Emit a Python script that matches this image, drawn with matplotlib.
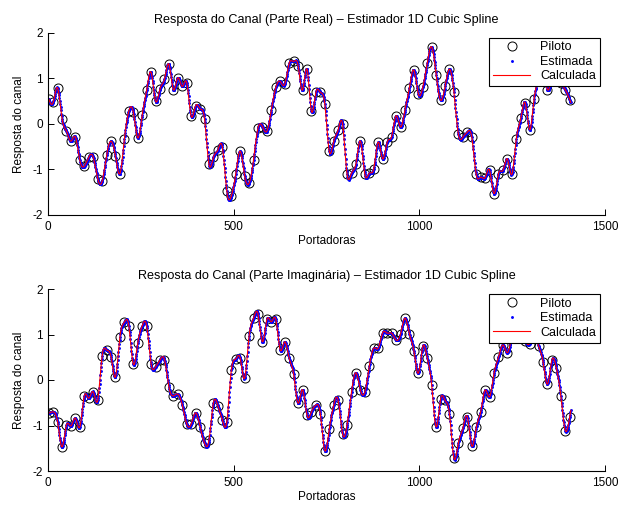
import numpy as np
import matplotlib
matplotlib.use("Agg")
import matplotlib.pyplot as plt

plt.rcParams['font.family'] = ['Liberation Sans', 'DejaVu Sans']
plt.rcParams['axes.unicode_minus'] = False

# ---------------- data ----------------
pilot_spacing = 12
n_carriers = 1408

pilot_real = [
    0.55, 0.47, 0.79, 0.11, -0.16, -0.38, -0.29, -0.80, -0.93, -0.73,
    -0.73, -1.20, -1.26, -0.69, -0.38, -0.71, -1.09, -0.33, 0.28, 0.26,
    -0.31, 0.20, 0.74, 1.13, 0.50, 0.77, 0.98, 1.31, 0.75, 1.01,
    0.82, 0.90, 0.17, 0.40, 0.33, 0.11, -0.89, -0.73, -0.57, -0.51,
    -1.48, -1.59, -1.10, -0.60, -1.14, -1.30, -0.79, -0.09, -0.06, -0.16,
    0.31, 0.80, 0.93, 0.87, 1.33, 1.37, 1.28, 0.74, 1.20, 0.28,
    0.69, 0.69, 0.44, -0.60, -0.38, -0.13, -0.01, -1.11, -1.08, -0.87,
    -0.38, -1.11, -1.08, -0.98, -0.40, -0.77, -0.40, -0.28, 0.18, -0.07,
    0.31, 0.79, 1.18, 0.66, 0.80, 1.33, 1.69, 1.08, 0.52, 0.82,
    1.20, 0.69, -0.23, -0.29, -0.18, -0.29, -1.11, -1.17, -1.18, -1.02,
    -1.53, -1.09, -1.02, -0.77, -1.11, -0.33, 0.12, 0.46, -0.13, 0.55,
    1.00, 1.20, 0.75, 1.00, 1.10, 0.90, 0.75, 0.53,
]

pilot_imag = [
    -0.73, -0.70, -0.92, -1.47, -0.99, -1.01, -0.84, -1.03, -0.35, -0.40,
    -0.26, -0.45, 0.53, 0.66, 0.51, 0.07, 0.95, 1.27, 1.19, 0.35,
    0.81, 1.19, 1.19, 0.35, 0.29, 0.44, 0.45, -0.15, -0.35, -0.31,
    -0.55, -0.97, -0.97, -0.72, -1.03, -1.39, -1.32, -0.50, -0.57, -0.88,
    -0.92, 0.21, 0.46, 0.48, 0.04, 0.97, 1.36, 1.45, 0.84, 1.33,
    1.28, 1.33, 0.66, 0.84, 0.48, 0.13, -0.51, -0.21, -0.77, -0.70,
    -0.55, -0.75, -1.55, -1.08, -0.55, -0.45, -1.19, -0.99, -0.26, 0.16,
    -0.22, -0.26, 0.31, 0.70, 0.70, 1.04, 1.03, 1.03, 0.88, 1.01,
    1.36, 1.01, 0.64, 0.15, 0.74, 0.48, -0.11, -1.03, -0.42, -0.45,
    -0.75, -1.72, -1.38, -1.06, -0.81, -1.45, -1.04, -0.70, -0.22, -0.37,
    0.15, 0.50, 0.77, 0.60, 0.95, 1.20, 1.05, 0.85, 0.80, 1.00,
    0.75, 0.40, -0.09, 0.44, 0.26, -0.35, -1.11, -0.81,
]

titles = [
    "Resposta do Canal (Parte Real) \u2013 Estimador 1D Cubic Spline",
    "Resposta do Canal (Parte Imagin\u00e1ria) \u2013 Estimador 1D Cubic Spline",
]
legend_labels = ["Piloto", "Estimada", "Calculada"]
x_ticks = [0, 500, 1000, 1500]
y_ticks = [-2, -1, 0, 1, 2]


def natural_cubic_spline(xk, yk, xq):
    xk = np.asarray(xk, float)
    yk = np.asarray(yk, float)
    n = len(xk)
    h = np.diff(xk)
    A = np.zeros((n, n))
    b = np.zeros(n)
    A[0, 0] = 1.0
    A[-1, -1] = 1.0
    for i in range(1, n - 1):
        A[i, i - 1] = h[i - 1]
        A[i, i] = 2 * (h[i - 1] + h[i])
        A[i, i + 1] = h[i]
        b[i] = 3 * ((yk[i + 1] - yk[i]) / h[i] - (yk[i] - yk[i - 1]) / h[i - 1])
    c = np.linalg.solve(A, b)
    bb = (yk[1:] - yk[:-1]) / h - h * (2 * c[:-1] + c[1:]) / 3
    d = (c[1:] - c[:-1]) / (3 * h)
    idx = np.clip(np.searchsorted(xk, xq) - 1, 0, n - 2)
    dx = xq - xk[idx]
    return yk[idx] + bb[idx] * dx + c[idx] * dx ** 2 + d[idx] * dx ** 3


carriers = np.arange(1, n_carriers + 1)
pilot_pos = 1 + pilot_spacing * np.arange(len(pilot_real))

fig = plt.figure(figsize=(6.2, 5.05), dpi=100)
W, H = 620.0, 505.0
left, right = 48.3, 605.0
axes_px = [(32.7, 215.0), (289.0, 471.0)]

for (top, bot), pil, title in zip(axes_px, [pilot_real, pilot_imag], titles):
    ax = fig.add_axes([left / W, 1 - bot / H, (right - left) / W, (bot - top) / H])
    est = natural_cubic_spline(pilot_pos, pil, carriers)
    ax.plot(pilot_pos, pil, 'o', mfc='none', mec='black', ms=6.5, mew=0.7,
            label=legend_labels[0])
    ax.plot(carriers, est, '.', color=(0, 0, 1), ms=4.2, mew=0,
            label=legend_labels[1])
    ax.plot(carriers, est, '-', color=(1, 0, 0), lw=0.8,
            label=legend_labels[2])
    ax.set_xlim(0, 1500)
    ax.set_ylim(-2, 2)
    ax.set_xticks(x_ticks)
    ax.set_yticks(y_ticks)
    for s in ['top', 'right']:
        ax.spines[s].set_visible(False)
    for s in ['left', 'bottom']:
        ax.spines[s].set_linewidth(0.8)
    ax.tick_params(direction='in', length=4, width=0.7, labelsize=8.5, pad=4)
    ax.set_title(title, fontsize=9.1, pad=7)
    ax.set_xlabel("Portadoras", fontsize=8.5, labelpad=2)
    ax.set_ylabel("Resposta do canal", fontsize=8.5, labelpad=5)
    leg = ax.legend(loc='upper right', fontsize=9, frameon=True, fancybox=False,
                    edgecolor='black', framealpha=1, numpoints=1,
                    handlelength=3.0, borderaxespad=0.4, labelspacing=0.2,
                    borderpad=0.3, handletextpad=0.8)
    leg.get_frame().set_linewidth(0.8)

fig.savefig("out.png", dpi=100)
